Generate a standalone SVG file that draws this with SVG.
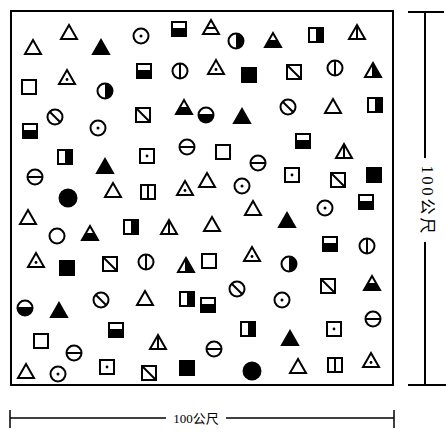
<svg xmlns="http://www.w3.org/2000/svg" xmlns:xlink="http://www.w3.org/1999/xlink" width="446" height="440" viewBox="0 0 446 440">
<style>
.o{fill:none;stroke:#000;stroke-width:2;stroke-linejoin:miter}
.f{fill:#000;stroke:#000;stroke-width:2}
.k{fill:#000;stroke:none}
.l{stroke:#000;stroke-width:2;fill:none}
.t{font-family:"Liberation Serif","Noto Sans CJK SC",serif;font-size:13px;fill:#000}
.tv{font-family:"Liberation Serif","Noto Sans CJK SC",serif;font-size:16px;letter-spacing:3px;fill:#000}
</style>
<defs>
<polygon id="triS" points="0,-7 8,7 -8,7"/>
<g id="tri"><use xlink:href="#triS" class="o"/></g>
<g id="triF"><use xlink:href="#triS" class="f"/></g>
<g id="triDot"><use xlink:href="#triS" class="o"/><circle cx="0" cy="2.5" r="1.4" class="k"/></g>
<g id="triV"><use xlink:href="#triS" class="o"/><line x1="0" y1="-7" x2="0" y2="7" class="l"/></g>
<g id="triH"><use xlink:href="#triS" class="o"/><line x1="-4.3" y1="1" x2="4.3" y2="1" class="l"/></g>
<g id="triR"><polygon points="0,-7 8,7 0,7" class="k"/><use xlink:href="#triS" class="o"/><line x1="0" y1="-7" x2="0" y2="7" class="l"/></g>
<g id="triB"><polygon points="-3.8,0 3.8,0 8,7 -8,7" class="k"/><use xlink:href="#triS" class="o"/></g>
<rect id="sqS" x="-7" y="-7" width="14" height="14"/>
<g id="sq"><use xlink:href="#sqS" class="o"/></g>
<g id="sqF"><use xlink:href="#sqS" class="f"/></g>
<g id="sqDot"><use xlink:href="#sqS" class="o"/><circle cx="0" cy="0" r="1.4" class="k"/></g>
<g id="sqD"><use xlink:href="#sqS" class="o"/><line x1="-7" y1="-7" x2="7" y2="7" class="l"/></g>
<g id="sqV"><use xlink:href="#sqS" class="o"/><line x1="0" y1="-7" x2="0" y2="7" class="l"/></g>
<g id="sqB"><rect x="-7" y="-1" width="14" height="8" class="k"/><use xlink:href="#sqS" class="o"/></g>
<g id="sqR"><rect x="0" y="-7" width="7" height="14" class="k"/><use xlink:href="#sqS" class="o"/></g>
<circle id="cS" cx="0" cy="0" r="7.5"/>
<g id="c"><use xlink:href="#cS" class="o"/></g>
<g id="cF"><circle cx="0" cy="0" r="8.5" class="f"/></g>
<g id="cDot"><use xlink:href="#cS" class="o"/><circle cx="0" cy="0" r="1.5" class="k"/></g>
<g id="cH"><use xlink:href="#cS" class="o"/><line x1="-7.5" y1="0" x2="7.5" y2="0" class="l"/></g>
<g id="cV"><use xlink:href="#cS" class="o"/><line x1="0" y1="-7.5" x2="0" y2="7.5" class="l"/></g>
<g id="cD"><use xlink:href="#cS" class="o"/><line x1="-5.3" y1="-5.3" x2="5.3" y2="5.3" class="l"/></g>
<g id="cR"><path d="M0,-7.5 A7.5,7.5 0 0 1 0,7.5 Z" class="k"/><use xlink:href="#cS" class="o"/></g>
<g id="cB"><path d="M-7.5,0 A7.5,7.5 0 0 0 7.5,0 Z" class="k"/><use xlink:href="#cS" class="o"/><line x1="-7.5" y1="0" x2="7.5" y2="0" class="l"/></g>
</defs>
<rect id="frame" x="11" y="11" width="382" height="374" fill="none" stroke="#000" stroke-width="2"/>
<g id="symbols">
<use xlink:href="#tri" x="33" y="47"/>
<use xlink:href="#tri" x="69" y="32"/>
<use xlink:href="#triF" x="101" y="47"/>
<use xlink:href="#cDot" x="141" y="36"/>
<use xlink:href="#sqB" x="179" y="29"/>
<use xlink:href="#triH" x="211" y="27"/>
<use xlink:href="#cR" x="236" y="41"/>
<use xlink:href="#triB" x="273" y="40"/>
<use xlink:href="#sqR" x="316" y="35"/>
<use xlink:href="#triV" x="357" y="32"/>
<use xlink:href="#sq" x="29" y="87"/>
<use xlink:href="#triDot" x="67" y="77"/>
<use xlink:href="#cR" x="105" y="91"/>
<use xlink:href="#sqB" x="144" y="71"/>
<use xlink:href="#cV" x="180" y="71"/>
<use xlink:href="#triDot" x="216" y="67"/>
<use xlink:href="#sqF" x="249" y="75"/>
<use xlink:href="#sqD" x="294" y="72"/>
<use xlink:href="#cV" x="335" y="68"/>
<use xlink:href="#triR" x="373" y="70"/>
<use xlink:href="#cD" x="55" y="117"/>
<use xlink:href="#sqB" x="30" y="131"/>
<use xlink:href="#cDot" x="98" y="128"/>
<use xlink:href="#sqD" x="143" y="115"/>
<use xlink:href="#triB" x="184" y="107"/>
<use xlink:href="#cB" x="206" y="115"/>
<use xlink:href="#triF" x="242" y="116"/>
<use xlink:href="#cD" x="288" y="107"/>
<use xlink:href="#tri" x="333" y="106"/>
<use xlink:href="#sqR" x="375" y="105"/>
<use xlink:href="#sqR" x="65" y="157"/>
<use xlink:href="#triF" x="105" y="166"/>
<use xlink:href="#sqDot" x="147" y="156"/>
<use xlink:href="#cH" x="187" y="147"/>
<use xlink:href="#sq" x="223" y="152"/>
<use xlink:href="#cH" x="258" y="163"/>
<use xlink:href="#sqB" x="303" y="141"/>
<use xlink:href="#triV" x="344" y="151"/>
<use xlink:href="#cH" x="35" y="177"/>
<use xlink:href="#sqDot" x="292" y="175"/>
<use xlink:href="#sqD" x="338" y="180"/>
<use xlink:href="#sqF" x="374" y="175"/>
<use xlink:href="#cF" x="68" y="198"/>
<use xlink:href="#tri" x="113" y="190"/>
<use xlink:href="#sqV" x="148" y="192"/>
<use xlink:href="#triDot" x="185" y="188"/>
<use xlink:href="#tri" x="207" y="180"/>
<use xlink:href="#cDot" x="242" y="186"/>
<use xlink:href="#sqB" x="366" y="202"/>
<use xlink:href="#cDot" x="325" y="208"/>
<use xlink:href="#tri" x="253" y="208"/>
<use xlink:href="#tri" x="28" y="217"/>
<use xlink:href="#c" x="57" y="236"/>
<use xlink:href="#triB" x="90" y="233"/>
<use xlink:href="#sqR" x="131" y="227"/>
<use xlink:href="#triV" x="169" y="227"/>
<use xlink:href="#tri" x="212" y="224"/>
<use xlink:href="#triF" x="287" y="220"/>
<use xlink:href="#sqB" x="330" y="244"/>
<use xlink:href="#cV" x="367" y="246"/>
<use xlink:href="#triDot" x="36" y="260"/>
<use xlink:href="#sqF" x="67" y="268"/>
<use xlink:href="#sqD" x="110" y="264"/>
<use xlink:href="#cV" x="146" y="262"/>
<use xlink:href="#triR" x="186" y="265"/>
<use xlink:href="#sq" x="209" y="261"/>
<use xlink:href="#triDot" x="252" y="254"/>
<use xlink:href="#cR" x="289" y="264"/>
<use xlink:href="#sqD" x="328" y="286"/>
<use xlink:href="#triB" x="372" y="283"/>
<use xlink:href="#cD" x="237" y="289"/>
<use xlink:href="#cB" x="25" y="308"/>
<use xlink:href="#triF" x="59" y="310"/>
<use xlink:href="#cD" x="101" y="300"/>
<use xlink:href="#tri" x="145" y="298"/>
<use xlink:href="#sqR" x="187" y="299"/>
<use xlink:href="#sqB" x="208" y="305"/>
<use xlink:href="#sqR" x="248" y="329"/>
<use xlink:href="#cDot" x="282" y="300"/>
<use xlink:href="#sqB" x="116" y="330"/>
<use xlink:href="#sq" x="41" y="341"/>
<use xlink:href="#cH" x="74" y="353"/>
<use xlink:href="#triV" x="158" y="342"/>
<use xlink:href="#cH" x="214" y="349"/>
<use xlink:href="#triF" x="290" y="338"/>
<use xlink:href="#sqDot" x="334" y="329"/>
<use xlink:href="#cH" x="373" y="319"/>
<use xlink:href="#tri" x="26" y="371"/>
<use xlink:href="#cDot" x="58" y="374"/>
<use xlink:href="#sqDot" x="107" y="367"/>
<use xlink:href="#sqD" x="149" y="373"/>
<use xlink:href="#sqF" x="187" y="368"/>
<use xlink:href="#cF" x="252" y="371"/>
<use xlink:href="#tri" x="298" y="366"/>
<use xlink:href="#sqV" x="335" y="365"/>
<use xlink:href="#triDot" x="371" y="360"/>
</g>
<g id="dim-right">
<line x1="408" y1="12" x2="444" y2="12" class="l"/>
<line x1="425" y1="12" x2="425" y2="158" class="l"/>
<line x1="425" y1="242" x2="425" y2="385" class="l"/>
<line x1="408" y1="385" x2="446" y2="385" class="l"/>
<text class="tv" transform="translate(422,201) rotate(90)" text-anchor="middle">100公尺</text>
</g>
<g id="dim-bottom">
<line x1="10" y1="410" x2="10" y2="428" stroke="#000" stroke-width="1.5"/>
<line x1="10" y1="418" x2="166" y2="418" stroke="#000" stroke-width="1.5"/>
<line x1="226" y1="418" x2="394" y2="418" stroke="#000" stroke-width="1.5"/>
<line x1="394" y1="410" x2="394" y2="428" stroke="#000" stroke-width="1.5"/>
<text class="t" x="196" y="423" text-anchor="middle">100公尺</text>
</g>
</svg>
